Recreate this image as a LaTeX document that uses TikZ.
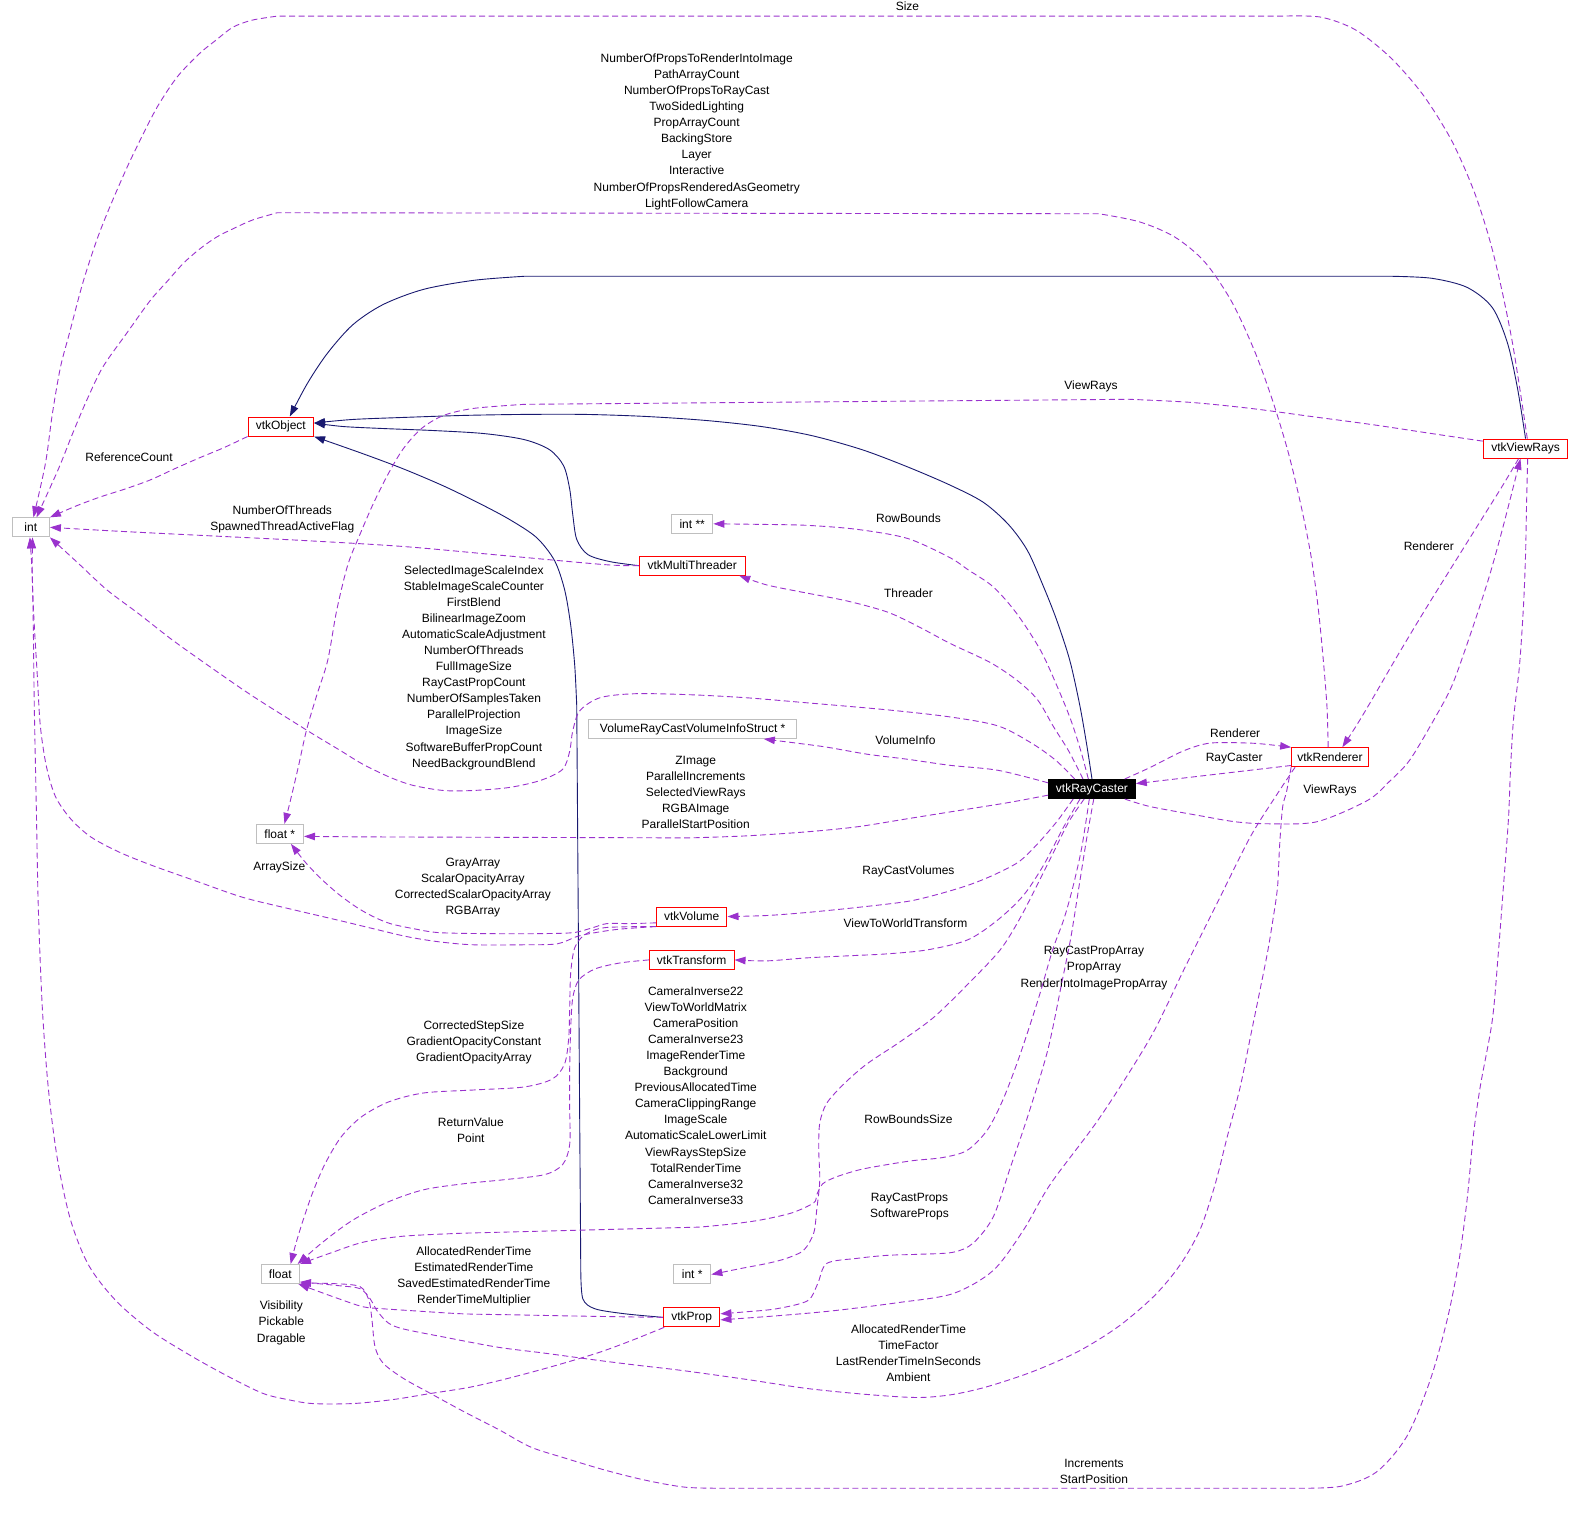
\documentclass[tikz,border=0pt]{standalone}
\usepackage{fontspec}
\setmainfont{Liberation Sans}
\usetikzlibrary{arrows.meta}
\definecolor{depc}{HTML}{9A32CD}
\definecolor{inhc}{HTML}{191970}
\definecolor{boxgray}{HTML}{BFBFBF}
\newcommand\lblfont{\fontsize{12}{16.1}\selectfont}
\begin{document}
\begin{tikzpicture}[x=1.0083pt,y=-1.0083pt,
 every node/.style={font=\lblfont},
 cls/.style={draw=red, fill=white, line width=1pt, minimum height=19pt, inner sep=0pt},
 typ/.style={draw=boxgray, fill=white, line width=1pt, minimum height=19pt, inner sep=0pt},
 dep/.style={draw=depc, line width=0.9pt, dash pattern=on 6pt off 3.5pt, -{Triangle[length=11pt,width=7.5pt]}},
 inh/.style={draw=inhc, line width=0.9pt, -{Triangle[length=11pt,width=7.5pt]}},
 lab/.style={align=center, inner sep=0pt},
 sm/.style={smooth, tension=0.5}
]
\useasboundingbox (0,0) rectangle (1568,1502);
% nodes
\node[cls, minimum width=65.5pt] (O) at (278.5,423) {vtkObject};
\node[typ, minimum width=37.3pt] (I) at (30.5,523) {int};
\node[cls, minimum width=84.7pt] (VR) at (1513,445) {vtkViewRays};
\node[typ, minimum width=41.3pt] (I2) at (686.5,519.5) {int **};
\node[cls, minimum width=105.9pt] (MT) at (686.5,561) {vtkMultiThreader};
\node[typ, minimum width=207.7pt] (VI) at (687,723) {VolumeRayCastVolumeInfoStruct *};
\node[draw=black, fill=black, text=white, line width=1pt, minimum height=19pt, inner sep=0pt, minimum width=86.7pt] (RC) at (1083,782.5) {vtkRayCaster};
\node[cls, minimum width=76.6pt] (R) at (1319,751) {vtkRenderer};
\node[typ, minimum width=47.4pt] (FS) at (277.5,827) {float *};
\node[cls, minimum width=70.6pt] (V) at (686,909) {vtkVolume};
\node[cls, minimum width=84.7pt] (T) at (686,952) {vtkTransform};
\node[typ, minimum width=37.3pt] (IS) at (686.5,1264) {int *};
\node[typ, minimum width=38.3pt] (F) at (278,1263.5) {float};
\node[cls, minimum width=56.5pt] (P) at (686,1306.5) {vtkProp};

% labels
\node[lab] (lSize) at (900,6) {Size};
\node[lab] (lLFC) at (691,130.5) {NumberOfPropsToRenderIntoImage\\PathArrayCount\\NumberOfPropsToRayCast\\TwoSidedLighting\\PropArrayCount\\BackingStore\\Layer\\Interactive\\NumberOfPropsRenderedAsGeometry\\LightFollowCamera};
\node[lab] (lVR1) at (1082,383) {ViewRays};
\node[lab] (lRef) at (128,453) {ReferenceCount};
\node[lab] (lThr) at (280,515) {NumberOfThreads\\SpawnedThreadActiveFlag};
\node[lab] (lRB) at (901,514) {RowBounds};
\node[lab] (lRen2) at (1417,542) {Renderer};
\node[lab] (lThreader) at (901,588) {Threader};
\node[lab] (lSel) at (470,662) {SelectedImageScaleIndex\\StableImageScaleCounter\\FirstBlend\\BilinearImageZoom\\AutomaticScaleAdjustment\\NumberOfThreads\\FullImageSize\\RayCastPropCount\\NumberOfSamplesTaken\\ParallelProjection\\ImageSize\\SoftwareBufferPropCount\\NeedBackgroundBlend};
\node[lab] (lVI) at (898,734) {VolumeInfo};
\node[lab] (lRen1) at (1225,727) {Renderer};
\node[lab] (lRC) at (1224,752) {RayCaster};
\node[lab] (lVR2) at (1319,784) {ViewRays};
\node[lab] (lZI) at (690,786) {ZImage\\ParallelIncrements\\SelectedViewRays\\RGBAImage\\ParallelStartPosition};
\node[lab] (lAS) at (277,860) {ArraySize};
\node[lab] (lRCV) at (901,864) {RayCastVolumes};
\node[lab] (lGA) at (469,880) {GrayArray\\ScalarOpacityArray\\CorrectedScalarOpacityArray\\RGBArray};
\node[lab] (lVTW) at (898,916) {ViewToWorldTransform};
\node[lab] (lRCPA) at (1085,960) {RayCastPropArray\\PropArray\\RenderIntoImagePropArray};
\node[lab] (lCam) at (690,1086.5) {CameraInverse22\\ViewToWorldMatrix\\CameraPosition\\CameraInverse23\\ImageRenderTime\\Background\\PreviousAllocatedTime\\CameraClippingRange\\ImageScale\\AutomaticScaleLowerLimit\\ViewRaysStepSize\\TotalRenderTime\\CameraInverse32\\CameraInverse33};
\node[lab] (lCSS) at (470,1034) {CorrectedStepSize\\GradientOpacityConstant\\GradientOpacityArray};
\node[lab] (lRBS) at (901,1110) {RowBoundsSize};
\node[lab] (lRV) at (467,1121) {ReturnValue\\Point};
\node[lab] (lRCP) at (902,1197) {RayCastProps\\SoftwareProps};
\node[lab] (lART) at (470,1266) {AllocatedRenderTime\\EstimatedRenderTime\\SavedEstimatedRenderTime\\RenderTimeMultiplier};
\node[lab] (lVis) at (279,1312) {Visibility\\Pickable\\Dragable};
\node[lab] (lTF) at (901,1342) {AllocatedRenderTime\\TimeFactor\\LastRenderTimeInSeconds\\Ambient};
\node[lab] (lInc) at (1085,1459) {Increments\\StartPosition};

% inheritance edges
\draw[inh] plot[sm] coordinates {(VR.north) (1505,385) (1495,340) (1480,305) (1455,285) (1420,276) (1380,274)}
  -- plot[sm] coordinates {(520,274) (470,278) (420,287) (380,302) (350,322) (325,350) (305,380) (O.48)};
\draw[inh] plot[sm] coordinates {(RC.north) (1078,740) (1071,700) (1061,655) (1048,615) (1035,582) (1019,546) (1000,520) (975,498) (942,481) (900,463) (855,446) (805,432) (755,423) (700,417) (640,413) (580,411) (520,411) (460,412) (400,414) (350,416) (O.6)};
\draw[inh] plot[sm] coordinates {(MT.west) (605,557) (583,550) (572,535) (568,510) (565,485) (559,462) (545,446) (520,436) (480,430) (430,427) (380,425) (340,423) (O.6)};
\draw[inh] plot[sm] coordinates {(P.west) (620,1303) (590,1298) (578,1288) (576,1260)}
  -- plot[sm] coordinates {(572,700) (570,660) (566,620) (560,585) (550,556) (532,533) (505,515) (475,499) (440,482) (400,465) (360,450) (O.south east)};

% dependency edges
\draw[dep] plot[sm] coordinates {(O.south west) (222,444) (198,454) (173,465) (149,476) (124,485) (99,493) (75,502) (I.north east)};
\draw[dep] plot[sm] coordinates {(MT.west) (600,560) (500,551) (400,542) (300,536) (200,531) (120,527) (I.east)};
\draw[dep] plot[sm] coordinates {(RC.150) (1047,754) (1023,737) (990,720) (942,711) (880,704) (800,697) (740,692) (684,689) (630,688) (595,692) (575,705) (568,725) (565,745) (558,763) (536,774) (505,781) (469,784) (440,784) (410,779) (387,771) (360,758) (337,744) (312,729) (288,714) (264,699) (241,684) (205,659) (170,634) (138,609) (106,585) (78,559) (I.south east)};
\draw[dep] plot[sm] coordinates {(RC.110) (1072,745) (1062,714) (1049,682) (1032,645) (1008,608) (985,582) (960,565) (942,553) (900,534) (850,525) (800,521) (750,520) (I2.east)};
\draw[dep] plot[sm] coordinates {(RC.132) (1060,745) (1045,721) (1029,694) (1009,675) (982,657) (942,638) (910,621) (880,607) (840,596) (794,587) (760,580) (MT.-12)};
\draw[dep] plot[sm] coordinates {(RC.172) (990,764) (942,759) (900,753) (860,748) (820,741) (790,737) (VI.-8)};
\draw[dep] plot[sm] coordinates {(RC.17) (1141,761) (1173,745) (1200,737) (1240,737) (1263,739) (R.north west)};
\draw[dep] (R.-168) -- (RC.7);
\draw[dep] plot[sm] coordinates {(RC.-17) (1141,800) (1190,809) (1225,815) (1257,817) (1306,815) (1356,794) (1378,775) (1398,754) (1422,714) (1440,680) (1458,630) (1476,575) (1490,525) (VR.-117)};
\draw[dep] plot[sm] coordinates {(VR.-125) (1490,482) (1465,522) (1440,562) (1412,607) (1385,652) (1360,695) (1345,720) (R.39)};
\draw[dep] plot[sm] coordinates {(VR.80) (1508,390) (1500,340) (1490,290) (1478,240) (1462,190) (1440,140) (1412,95) (1380,58) (1345,30) (1310,17) (1270,16)}
  -- plot[sm] coordinates {(275,16) (250,20) (231,27) (214,40) (198,53) (176,76) (156,106) (139,139) (126,166) (109,205) (96,238) (82,281) (69,330) (60,364) (52,410) (45,460) (I.75)};
\draw[dep] plot[sm] coordinates {(R.100) (1316,700) (1312,650) (1307,600) (1300,550) (1290,500) (1278,450) (1263,400) (1245,350) (1222,300) (1195,260) (1165,235) (1130,220) (1090,212)}
  -- plot[sm] coordinates {(275,211) (251,218) (233,226) (215,235) (198,247) (182,261) (165,280) (149,298) (126,330) (102,364) (86,397) (72,430) (58,465) (I.60)};
\draw[dep] plot[sm] coordinates {(VR.170) (1420,430) (1360,421) (1300,413) (1240,405) (1180,399) (1120,396)}
  -- plot[sm] coordinates {(520,401) (470,405) (440,412) (418,425) (400,445) (385,470) (370,500) (357,530) (345,560) (334,605) (325,655) (314,690) (304,724) (296,760) (288,794) (FS.65)};
\draw[dep] plot[sm] coordinates {(RC.-172) (1000,796) (950,804) (900,812) (850,820) (800,825) (740,829) (684,831)} -- (360,830) -- (FS.-6);
\draw[dep] plot[sm] coordinates {(V.-170) (625,916) (602,916) (588,920) (568,925) (530,926) (490,926) (436,925) (410,921) (387,916) (370,909) (354,900) (336,887) (320,873) (310,863) (301,853) (FS.-42)};
\draw[dep] plot[sm] coordinates {(V.south west) (610,922) (575,928) (553,936) (520,937) (469,937) (435,934) (404,929) (370,921) (337,913) (290,902) (241,890) (195,874) (150,858) (118,845) (90,830) (70,812) (55,790) (46,760) (40,720) (37,670) (34,620) (32,575) (I.-80)};
\draw[dep] plot[sm] coordinates {(V.south west) (600,920) (580,927) (570,940) (566,965) (565,1000) (564,1030) (560,1055) (548,1070) (520,1078) (470,1081) (420,1084) (385,1093) (358,1108) (338,1128) (322,1155) (310,1183) (300,1212) (293,1235) (F.44)};
\draw[dep] plot[sm] coordinates {(T.west) (615,955) (590,961) (574,972) (568,990) (566,1020) (565,1060) (565,1100) (565,1135) (558,1155) (540,1165) (500,1170) (460,1174) (420,1180) (385,1192) (350,1210) (320,1232) (F.30)};
\draw[dep] plot[sm] coordinates {(RC.-105) (1077,815) (1072,845) (1064,880) (1055,912) (1044,942) (1030,990) (1012,1045) (995,1090) (979,1121) (959,1141) (935,1148) (906,1151) (880,1155) (853,1160) (830,1167) (816,1174) (810,1185) (807,1193) (785,1203) (754,1210) (725,1214) (694,1217)}
  -- plot[sm] coordinates {(460,1223) (400,1226) (360,1232) (327,1243) (F.north east)};
\draw[dep] plot[sm] coordinates {(RC.-128) (1060,815) (1045,845) (1030,875) (1012,910) (992,942) (960,976) (926,1009) (893,1033) (860,1055) (838,1074) (820,1094) (813,1114) (812,1140) (813,1171) (810,1200) (807,1223) (797,1240) (780,1248) (761,1253) (735,1258) (IS.east)};
\draw[dep] plot[sm] coordinates {(RC.-140) (1055,820) (1035,858) (1015,888) (990,912) (960,932) (920,942) (880,946) (840,948) (800,950) (760,953) (T.east)};
\draw[dep] plot[sm] coordinates {(RC.-152) (1048,815) (1028,838) (1010,855) (985,868) (960,878) (930,887) (900,894) (850,900) (800,905) (760,908) (V.east)};
\draw[dep] plot[sm] coordinates {(RC.-80) (1078,830) (1070,880) (1062,930) (1053,975) (1039,1042) (1019,1108) (1002,1158) (985,1207) (965,1233) (945,1242) (910,1244) (880,1245) (850,1248) (820,1253) (811,1273) (801,1290) (770,1298) (740,1301) (P.7)};
\draw[dep] plot[sm] coordinates {(R.-164) (1267,787) (1240,830) (1207,896) (1174,962) (1141,1029) (1091,1108) (1042,1174) (1015,1220) (985,1260) (945,1283) (890,1292) (826,1300) (770,1305) (P.-5)};
\draw[dep] plot[sm] coordinates {(R.south west) (1276,785) (1272,801) (1269,840) (1267,880) (1262,915) (1257,945) (1249,985) (1240,1029) (1230,1078) (1217,1128) (1205,1175) (1190,1220) (1170,1255) (1145,1285) (1110,1315) (1070,1340) (1025,1360) (980,1375) (945,1383) (910,1386) (860,1383) (800,1377) (740,1368) (675,1359) (632,1354) (592,1349) (540,1342) (493,1336) (440,1326) (400,1318) (385,1312) (374,1300) (367,1288) (357,1278) (335,1275) (F.-22)};
\draw[dep] plot[sm] coordinates {(VR.-78) (1514,500) (1513,550) (1511,600) (1507,660) (1501,714) (1498,765) (1496,813) (1491,880) (1486,945) (1480,1012) (1468,1078) (1461,1128) (1455,1190) (1447,1250) (1435,1310) (1418,1370) (1395,1425) (1365,1460) (1330,1474) (1290,1476)}
  -- plot[sm] coordinates {(720,1476) (680,1475) (640,1468) (600,1458) (560,1446) (526,1435) (495,1418) (460,1400) (427,1382) (400,1367) (380,1352) (372,1336) (369,1310) (366,1290) (357,1276) (330,1273) (F.-25)};
\draw[dep] plot[sm] coordinates {(P.west) (620,1306) (560,1305) (510,1304) (459,1303) (410,1300) (380,1298) (360,1296) (333,1287) (F.-29)};
\draw[dep] plot[sm] coordinates {(P.-160) (625,1330) (592,1342) (545,1356) (500,1368) (465,1376) (427,1382) (390,1388) (350,1392) (310,1392) (285,1388) (261,1382) (228,1366) (190,1345) (150,1320) (115,1290) (88,1255) (70,1210) (57,1150) (48,1080) (42,1000) (38,900) (36,800) (34,700) (33,620) (32,570) (I.-95)};
\end{tikzpicture}
\end{document}
